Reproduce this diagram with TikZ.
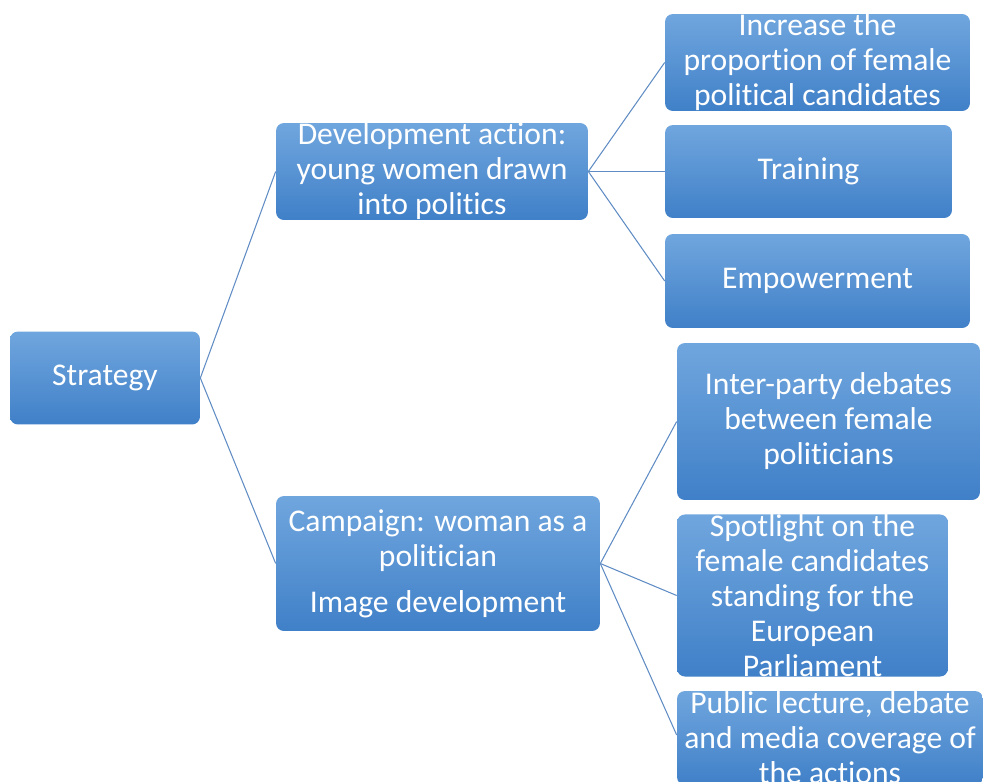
\documentclass[tikz,border=0pt]{standalone}
\usepackage{fontspec}
\setmainfont{Carlito}[Ligatures={NoCommon}]
\usepackage{tikz}
\usetikzlibrary{shapes,positioning,calc}

\definecolor{boxtop}{RGB}{112,166,222}
\definecolor{boxbottom}{RGB}{64,128,200}
\definecolor{linkblue}{RGB}{96,140,196}

\tikzset{
    box/.style={rectangle, rounded corners=4.5pt, top color=boxtop, bottom color=boxbottom,
        draw=none, text=white, align=center, inner sep=0pt,
        font=\fontsize{18}{19.9}\selectfont},
    link/.style={draw=linkblue, line width=0.6pt}
}

\begin{document}
\begin{tikzpicture}[x=0.02cm, y=-0.02cm]
        \useasboundingbox (0,0) rectangle (983,781);
        \clip (0,0) rectangle (983,781);

        % root
        \node[box, minimum width=3.8cm, minimum height=1.86cm] (strategy) at (105,378) {Strategy};

        % second level
        \node[box, minimum width=6.24cm, minimum height=1.86cm] (devel) at (432,171.5)
            {Development action:\\young women drawn\\into politics};
        \node[box, minimum width=6.48cm, minimum height=2.7cm] (campaign) at (438,563.5)
            {Campaign: woman as a\\politician\\[0.35em]Image development};

        % third level, upper branch
        \node[box, minimum width=6.1cm, minimum height=1.9cm] (increase) at (817.5,62.5)
            {Increase the\\proportion of female\\political candidates};
        \node[box, minimum width=5.74cm, minimum height=1.86cm] (training) at (808.5,171.5) {Training};
        \node[box, minimum width=6.1cm, minimum height=1.88cm] (empower) at (817.5,281) {Empowerment};

        % third level, lower branch
        \node[box, minimum width=6.06cm, minimum height=3.14cm] (debates) at (828.5,421.5)
            {Inter-party debates\\between female\\politicians};
        \node[box, minimum width=5.42cm, minimum height=3.18cm] (spotlight) at (812.5,595.5)
            {Spotlight on the\\female candidates\\standing for the\\European\\Parliament};
        \node[box, minimum width=6.12cm, minimum height=1.88cm] (lecture) at (830,738)
            {Public lecture, debate\\and media coverage of\\the actions};

        % connectors
        \draw[link] (strategy.east) -- (devel.west);
        \draw[link] (strategy.east) -- (campaign.west);
        \draw[link] (devel.east) -- (increase.west);
        \draw[link] (devel.east) -- (training.west);
        \draw[link] (devel.east) -- (empower.west);
        \draw[link] (campaign.east) -- (debates.west);
        \draw[link] (campaign.east) -- (spotlight.west);
        \draw[link] (campaign.east) -- ($(lecture.west)+(0,-3)$);
    \end{tikzpicture}
\end{document}
